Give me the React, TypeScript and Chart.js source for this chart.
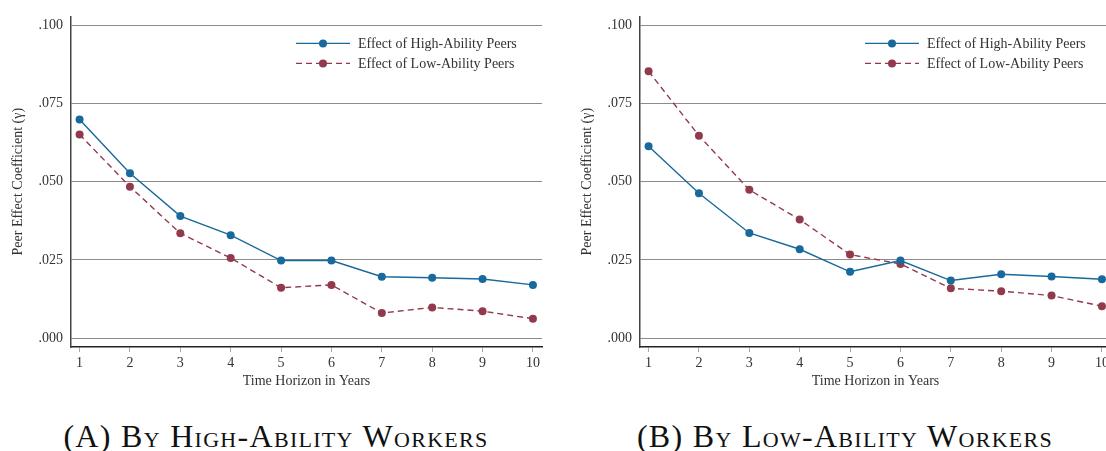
import React, { useEffect, useRef } from "react";
import { Chart, registerables } from "chart.js";

Chart.register(...registerables);

// ---- data ----
const years = [1, 2, 3, 4, 5, 6, 7, 8, 9, 10];
const yTicks = [0, 0.025, 0.05, 0.075, 0.1];

// Panel A: by high-ability workers
const highA = [0.0699, 0.0527, 0.039, 0.0329, 0.0248, 0.0248, 0.0196, 0.0193, 0.0189, 0.017];
const lowA = [0.0651, 0.0484, 0.0335, 0.0256, 0.0161, 0.017, 0.008, 0.0098, 0.0086, 0.0062];

// Panel B: by low-ability workers
const highB = [0.0613, 0.0463, 0.0336, 0.0284, 0.0212, 0.0248, 0.0184, 0.0204, 0.0197, 0.0188];
const lowB = [0.0853, 0.0647, 0.0474, 0.0379, 0.0267, 0.0237, 0.0159, 0.015, 0.0136, 0.0102];

const seriesNames = ["Effect of High-Ability Peers", "Effect of Low-Ability Peers"];
const xTitle = "Time Horizon in Years";
const yTitle = "Peer Effect Coefficient (\u03b3)";
const captions = ["(A) By High-Ability Workers", "(B) By Low-Ability Workers"];

const BLUE = "#18699c";
const RED = "#913a4e";
const FONT = "'Liberation Serif', 'Times New Roman', serif";
const TEXT = "#333333";

const legendPlugin = {
  id: "innerLegend",
  afterDraw(chart: any) {
    const { ctx, chartArea } = chart;
    const left = chartArea.left;
    const top = chartArea.top;
    ctx.save();
    chart.data.datasets.forEach((ds: any, i: number) => {
      const y = top + 27 + i * 20;
      ctx.beginPath();
      ctx.strokeStyle = ds.borderColor;
      ctx.lineWidth = ds.borderWidth;
      ctx.setLineDash(ds.borderDash || []);
      ctx.moveTo(left + 225, y);
      ctx.lineTo(left + 279, y);
      ctx.stroke();
      ctx.setLineDash([]);
      ctx.beginPath();
      ctx.fillStyle = ds.pointBackgroundColor;
      ctx.arc(left + 252, y, ds.pointRadius, 0, Math.PI * 2);
      ctx.fill();
      ctx.fillStyle = TEXT;
      ctx.font = `14px ${FONT}`;
      ctx.textAlign = "left";
      ctx.textBaseline = "middle";
      ctx.fillText(ds.label, left + 287, y + 1);
    });
    ctx.restore();
  },
};

function PeerChart({ high, low }: { high: number[]; low: number[] }) {
  const ref = useRef<HTMLCanvasElement | null>(null);
  useEffect(() => {
    if (!ref.current) return;
    const chart = new Chart(ref.current, {
      type: "line",
      data: {
        datasets: [
          {
            label: seriesNames[0],
            data: years.map((x, i) => ({ x, y: high[i] })),
            borderColor: BLUE,
            backgroundColor: BLUE,
            pointBackgroundColor: BLUE,
            pointBorderWidth: 0,
            pointRadius: 4,
            borderWidth: 1.4,
            tension: 0,
          },
          {
            label: seriesNames[1],
            data: years.map((x, i) => ({ x, y: low[i] })),
            borderColor: RED,
            backgroundColor: RED,
            pointBackgroundColor: RED,
            pointBorderWidth: 0,
            pointRadius: 4,
            borderWidth: 1.4,
            borderDash: [6, 4],
            tension: 0,
          },
        ],
      },
      options: {
        responsive: false,
        animation: false,
        devicePixelRatio: 1,
        layout: { padding: { top: 13, right: 18, left: 0, bottom: 0 } },
        plugins: { legend: { display: false }, tooltip: { enabled: false } },
        scales: {
          x: {
            type: "linear",
            min: 0.83,
            max: 10.18,
            afterBuildTicks: (s: any) => {
              s.ticks = years.map((v) => ({ value: v }));
            },
            afterFit: (s: any) => {
              s.height = 53;
            },
            ticks: {
              font: { family: FONT, size: 14 },
              color: TEXT,
              padding: 3,
              autoSkip: false,
              maxRotation: 0,
            },
            grid: {
              drawOnChartArea: false,
              drawTicks: true,
              tickLength: 5,
              tickColor: "#aaaaaa",
              tickWidth: 1,
            },
            border: { color: "#222222", width: 1.5 },
            title: {
              display: true,
              text: xTitle,
              font: { family: FONT, size: 14 },
              color: TEXT,
              padding: { top: 0, bottom: 10 },
            },
          },
          y: {
            type: "linear",
            min: -0.00285,
            max: 0.10285,
            afterBuildTicks: (s: any) => {
              s.ticks = yTicks.map((v) => ({ value: v }));
            },
            afterFit: (s: any) => {
              s.width = 71;
            },
            ticks: {
              font: { family: FONT, size: 14 },
              color: TEXT,
              padding: 8,
              callback: (v: any) => Number(v).toFixed(3).replace(/^0/, ""),
            },
            grid: { color: "#8c8c8c", lineWidth: 1, drawTicks: false },
            border: { color: "#444444", width: 1.5 },
            title: {
              display: true,
              text: yTitle,
              font: { family: FONT, size: 14 },
              color: TEXT,
              padding: { top: 10, bottom: 0 },
            },
          },
        },
      },
      plugins: [legendPlugin],
    } as any);
    return () => chart.destroy();
  }, [high, low]);
  return <canvas ref={ref} width={560} height={400} style={{ display: "block", width: 560, height: 400 }} />;
}

const captionStyle: React.CSSProperties = {
  position: "absolute",
  top: 420,
  width: 560,
  textAlign: "center",
  fontFamily: FONT,
  fontVariant: "small-caps",
  fontSize: 32,
  lineHeight: "33px",
  letterSpacing: "1.3px",
  color: "#111",
  whiteSpace: "nowrap",
};

export default function App() {
  return (
    <div
      style={{
        position: "absolute",
        left: 0,
        top: 0,
        width: 1106,
        height: 451,
        overflow: "hidden",
        background: "#fff",
      }}
    >
      <div style={{ position: "absolute", left: 0, top: 0 }}>
        <PeerChart high={highA} low={lowA} />
      </div>
      <div style={{ position: "absolute", left: 569, top: 0 }}>
        <PeerChart high={highB} low={lowB} />
      </div>
      <div style={{ ...captionStyle, left: 276 - 280 }}>{captions[0]}</div>
      <div style={{ ...captionStyle, left: 845 - 280 }}>{captions[1]}</div>
    </div>
  );
}
